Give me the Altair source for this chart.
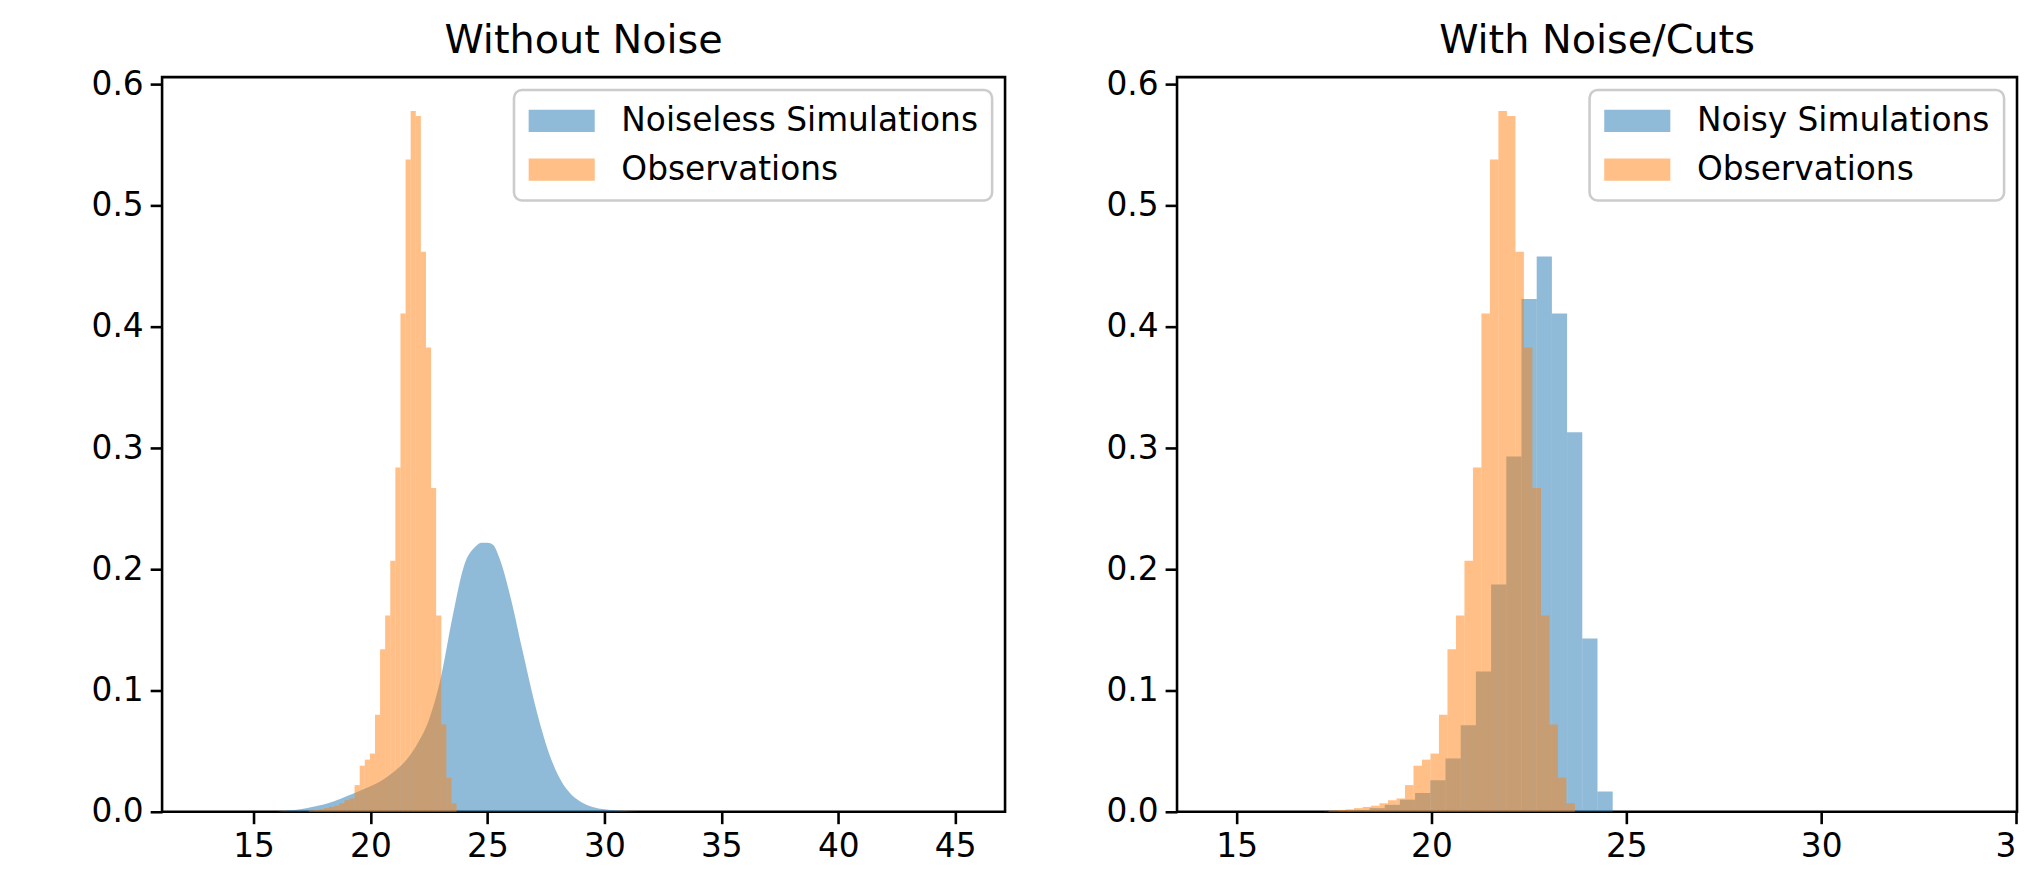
import altair as alt
import pandas as pd

FONT = "DejaVu Sans"

# ---------------- data ----------------
# Observations histogram (same bins in both panels): bin edges and densities
obs_edges = [17.358, 17.576, 17.794, 18.012, 18.230, 18.448, 18.666, 18.884, 19.102,
             19.320, 19.538, 19.756, 19.974, 20.192, 20.410, 20.628, 20.846, 21.064,
             21.282, 21.500, 21.718, 21.936, 22.154, 22.372, 22.590, 22.808, 23.026,
             23.244, 23.462, 23.680]
obs_density = [0.001, 0.0015, 0.002, 0.003, 0.004, 0.005, 0.007, 0.0095, 0.011,
               0.022, 0.038, 0.043, 0.048, 0.080, 0.134, 0.162, 0.207, 0.284,
               0.411, 0.538, 0.578, 0.574, 0.462, 0.383, 0.267, 0.162, 0.072,
               0.028, 0.007]

# Noisy simulations histogram (right panel)
noisy_edges = [17.24, 17.63, 18.02, 18.41, 18.80, 19.19, 19.58, 19.97, 20.36, 20.75,
               21.14, 21.53, 21.92, 22.31, 22.70, 23.09, 23.48, 23.87, 24.26, 24.65]
noisy_density = [0.0003, 0.0008, 0.0015, 0.003, 0.0057, 0.010, 0.0155, 0.026, 0.044,
                 0.0713, 0.1158, 0.1874, 0.293, 0.423, 0.458, 0.411, 0.313, 0.143, 0.0167]

# Noiseless simulations (very fine bins, read as a profile)
noiseless_x = [16.0, 16.5, 17.0, 17.5, 18.0, 18.5, 19.0, 19.5, 20.0, 20.5, 21.0, 21.5,
               22.0, 22.5, 23.0, 23.5, 24.0, 24.5, 24.75, 25.0, 25.25, 25.5, 26.0, 26.5,
               27.0, 27.5, 28.0, 28.5, 29.0, 29.5, 30.0, 30.5, 31.0, 31.5]
noiseless_density = [0.0, 0.001, 0.002, 0.004, 0.006, 0.009, 0.013, 0.017, 0.021, 0.026,
                     0.033, 0.042, 0.056, 0.076, 0.110, 0.160, 0.203, 0.219, 0.222, 0.222,
                     0.220, 0.210, 0.176, 0.133, 0.091, 0.056, 0.031, 0.016, 0.008, 0.004,
                     0.002, 0.001, 0.0005, 0.0]

y_ticks = [0.0, 0.1, 0.2, 0.3, 0.4, 0.5, 0.6]
left_x_ticks = [15, 20, 25, 30, 35, 40, 45]
right_x_ticks = [15, 20, 25, 30, 35]
titles = ["Without Noise", "With Noise/Cuts"]
sim_labels = ["Noiseless Simulations", "Noisy Simulations"]
obs_label = "Observations"

# ---------------- tables ----------------
def hist_df(edges, dens, label):
    return pd.DataFrame({
        "x": edges[:-1],
        "x_end": edges[1:],
        "y": dens,
        "base": [0.0] * len(dens),
        "series": [label] * len(dens),
    })

obs_df = hist_df(obs_edges, obs_density, obs_label)
noisy_df = hist_df(noisy_edges, noisy_density, sim_labels[1])
noiseless_df = pd.DataFrame({"x": noiseless_x, "y": noiseless_density,
                             "series": [sim_labels[0]] * len(noiseless_x)})

# wide legend swatch (2:0.67 aspect); path units scaled by sqrt(size)/2
LEGEND_PATH = "M-2,-0.67H2V0.67H-2Z"


def make_panel(title, sim_label, sim_chart_fn, x_domain, x_ticks, width, x_axis_extra):
    color = alt.Color(
        "series:N",
        scale=alt.Scale(domain=[sim_label, obs_label], range=["#1f77b4", "#ff7f0e"]),
        legend=alt.Legend(
            title=None, orient="top-right", offset=13,
            symbolType=LEGEND_PATH, symbolSize=1105, symbolOpacity=0.5,
            symbolOffset=17, symbolStrokeWidth=0,
            labelFont=FONT, labelFontSize=33, labelColor="black",
            labelLimit=0, labelOffset=43, padding=14, rowPadding=15,
            strokeColor="#cccccc", cornerRadius=8, fillColor="white",
        ),
    )
    xenc = alt.X("x:Q", scale=alt.Scale(domain=x_domain, nice=False, zero=False),
                 axis=alt.Axis(values=x_ticks, format="d", title=None, **x_axis_extra))
    yenc = alt.Y("y:Q", scale=alt.Scale(domain=[0, 0.606], nice=False),
                 axis=alt.Axis(values=y_ticks, format=".1f", title=None))
    sim = sim_chart_fn(xenc, yenc, color)
    obs = alt.Chart(obs_df).mark_rect(opacity=0.5).encode(
        x=xenc, x2="x_end:Q", y=yenc, y2="base:Q", color=color)
    return alt.layer(sim, obs).properties(title=title, width=width, height=739)


def noiseless_layer(xenc, yenc, color):
    return alt.Chart(noiseless_df).mark_area(opacity=0.5, interpolate="monotone").encode(
        x=xenc, y=yenc, color=color)


def noisy_layer(xenc, yenc, color):
    return alt.Chart(noisy_df).mark_rect(opacity=0.5).encode(
        x=xenc, x2="x_end:Q", y=yenc, y2="base:Q", color=color)


left = make_panel(titles[0], sim_labels[0], noiseless_layer, [11.09, 47.13],
                  left_x_ticks, 848, {})
# the last label of the right panel is cut by the figure edge in the original
right = make_panel(
    titles[1], sim_labels[1], noisy_layer, [13.47, 35.026], right_x_ticks, 845,
    {"labelExpr": "datum.value == 35 ? '3' : datum.label",
     "labelAlign": {"condition": {"test": "datum.value == 35", "value": "right"},
                    "value": "center"}},
)

chart = (
    alt.hconcat(left, right, spacing=98)
    .resolve_scale(color="independent", x="independent", y="independent")
    .resolve_legend(color="independent")
    .properties(padding={"left": 82, "top": 9, "right": 0, "bottom": 0})
    .configure_view(stroke="black", strokeWidth=2.6)
    .configure_axis(
        domain=False, grid=False, tickColor="black", tickWidth=2.6, tickSize=12,
        labelFont=FONT, labelFontSize=33, labelColor="black", labelPadding=7,
    )
    .configure_axisX(labelPadding=7)
    .configure_title(font=FONT, fontSize=40, fontWeight="normal", color="black",
                     offset=8, baseline="alphabetic", anchor="middle", frame="group")
    .configure_legend(strokeWidth=2.6)
)

chart.save("out.html", embed_options={"renderer": "svg", "actions": False})
